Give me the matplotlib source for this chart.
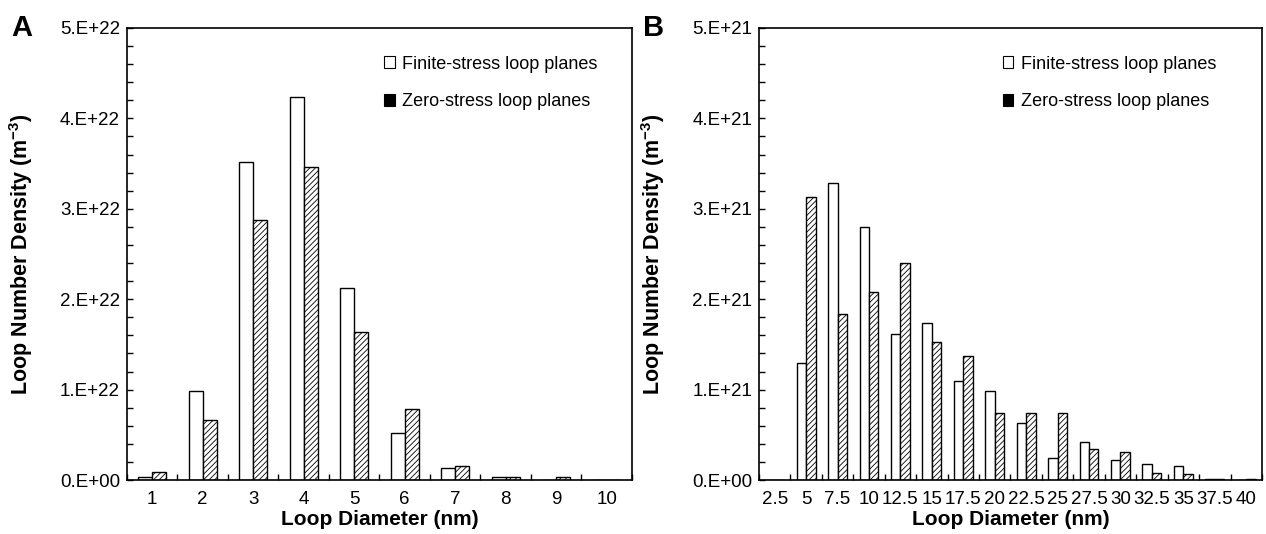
import matplotlib
matplotlib.use("Agg")
import matplotlib.pyplot as plt
from matplotlib.patches import Patch
import numpy as np

plt.rcParams['font.family'] = ['Liberation Sans', 'DejaVu Sans']
plt.rcParams['hatch.linewidth'] = 0.6

# Panel A data (units of 1e22 m^-3)
a_labels = ["1", "2", "3", "4", "5", "6", "7", "8", "9", "10"]
a_finite = [0.03, 0.98, 3.52, 4.24, 2.12, 0.52, 0.13, 0.03, 0.0, 0.0]
a_zero = [0.09, 0.66, 2.88, 3.46, 1.64, 0.79, 0.16, 0.03, 0.03, 0.0]
a_yticks = ["0.E+00", "1.E+22", "2.E+22", "3.E+22", "4.E+22", "5.E+22"]

# Panel B data (units of 1e21 m^-3)
b_labels = ["2.5", "5", "7.5", "10", "12.5", "15", "17.5", "20", "22.5", "25",
            "27.5", "30", "32.5", "35", "37.5", "40"]
b_finite = [0.0, 1.29, 3.28, 2.80, 1.61, 1.74, 1.09, 0.98, 0.63, 0.245,
            0.42, 0.226, 0.18, 0.16, 0.008, 0.005]
b_zero = [0.0, 3.125, 1.84, 2.08, 2.40, 1.53, 1.37, 0.74, 0.74, 0.74,
          0.34, 0.31, 0.083, 0.068, 0.008, 0.008]
b_yticks = ["0.E+00", "1.E+21", "2.E+21", "3.E+21", "4.E+21", "5.E+21"]

legend_labels = ["Finite-stress loop planes", "Zero-stress loop planes"]

fig = plt.figure(figsize=(12.66, 5.34), dpi=100)
axA = fig.add_axes([0.1003, 0.1011, 0.3989, 0.8465])
axB = fig.add_axes([0.5995, 0.1011, 0.3973, 0.8465])


def draw(ax, labels, finite, zero, yticklabels, width, letter, legend_x):
    n = len(labels)
    x = np.arange(n)
    ax.bar(x - width / 2, finite, width, color="white", edgecolor="black", linewidth=1.0)
    ax.bar(x + width / 2, zero, width, color="white", edgecolor="black", linewidth=1.0,
           hatch="//////")
    ax.set_xlim(-0.5, n - 0.5)
    ax.set_ylim(0, 5)
    ax.set_xticks(x)
    ax.set_xticklabels(labels, fontsize=13.5)
    ax.set_xticks(np.arange(n + 1) - 0.5, minor=True)
    ax.tick_params(axis='x', which='major', length=0, pad=8)
    ax.tick_params(axis='x', which='minor', direction='in', length=4, width=1)
    ax.set_yticks(np.arange(6))
    ax.set_yticklabels(yticklabels, fontsize=13.5)
    ax.set_yticks(np.arange(0, 5.01, 0.2), minor=True)
    ax.tick_params(axis='y', which='both', direction='in', length=4, width=1, pad=5)
    for s in ax.spines.values():
        s.set_linewidth(1.2)
    ax.set_xlabel("Loop Diameter (nm)", fontsize=15, fontweight='bold', labelpad=1)
    ax.set_ylabel("Loop Number Density (m$^{\\mathregular{-3}}$)", fontsize=15.5,
                  fontweight='bold', labelpad=18)
    ax.text(-0.23, 1.0, letter, transform=ax.transAxes, fontsize=21, fontweight='bold',
            ha='left', va='center')
    handles = [Patch(facecolor='white', edgecolor='black', linewidth=0.8),
               Patch(facecolor='black', edgecolor='black', linewidth=0.8)]
    ax.legend(handles, legend_labels, loc='upper left', bbox_to_anchor=(legend_x, 0.955),
              frameon=False, fontsize=13, handlelength=0.6, handleheight=0.6,
              handletextpad=0.4, labelspacing=1.15, borderaxespad=0)


draw(axA, a_labels, a_finite, a_zero, a_yticks, 0.28, "A", 0.495)
draw(axB, b_labels, b_finite, b_zero, b_yticks, 0.30, "B", 0.47)

fig.savefig("out.png", dpi=100)
